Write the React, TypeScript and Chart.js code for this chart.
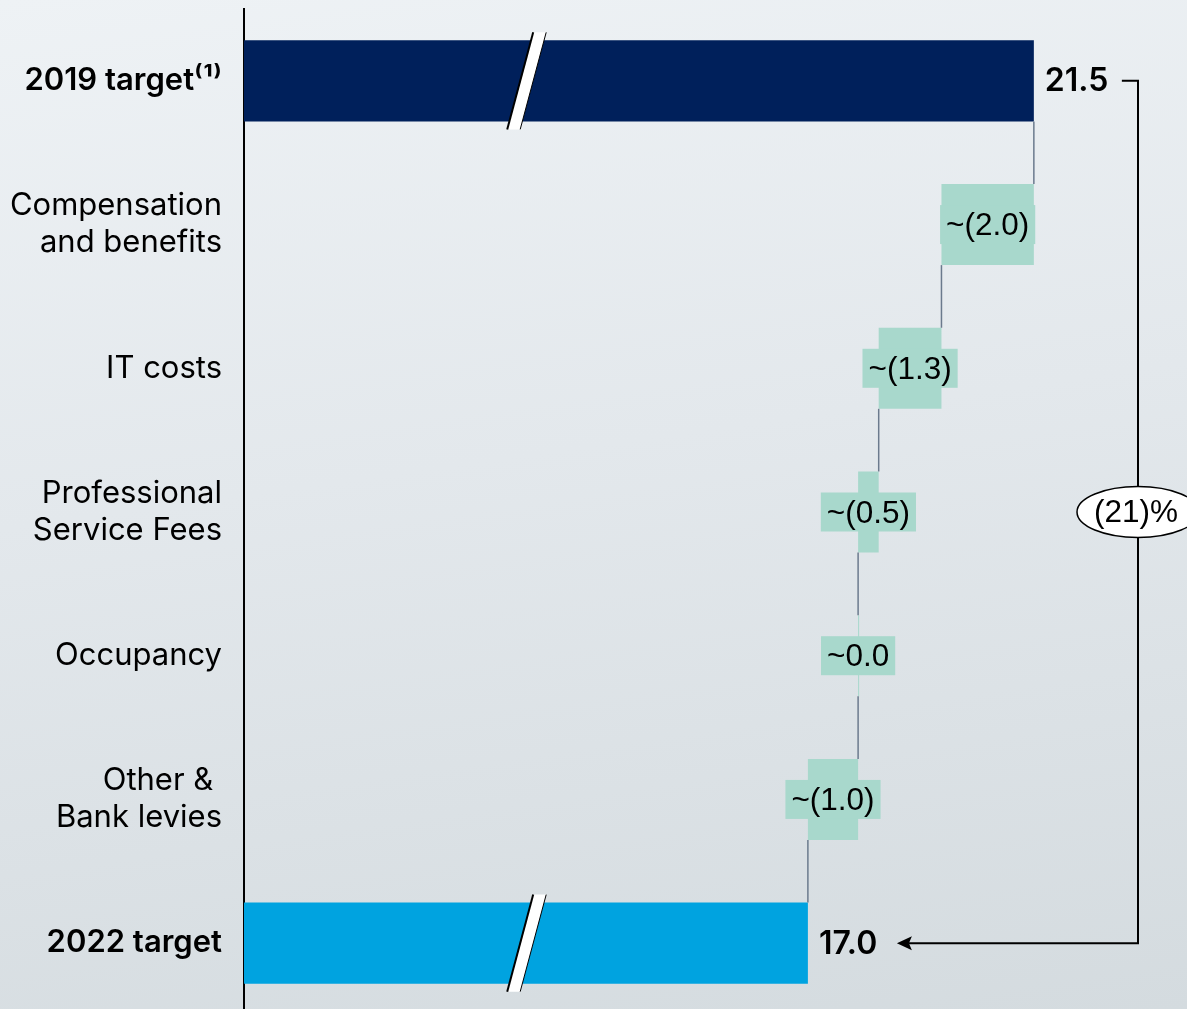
import React, { useEffect, useRef } from "react";
import { Chart, registerables } from "chart.js";

Chart.register(...registerables);

// ---- data ----
const categories: string[][] = [
  ["2019 target\u207D\u00B9\u207E"],
  ["Compensation", "and benefits"],
  ["IT costs"],
  ["Professional", "Service Fees"],
  ["Occupancy"],
  ["Other & ", "Bank levies"],
  ["2022 target"],
];
const startTotal = 21.5;
const stepLevels = [19.66, 18.41, 18.0, 18.0, 17.0]; // running level after each step (as drawn)
const endTotal = 17.0;
const stepLabels = ["~(2.0)", "~(1.3)", "~(0.5)", "~0.0", "~(1.0)"];
const totalLabels = ["21.5", "17.0"];
const changeLabel = "(21)%";
const axisBreakValue = 11.4;

const NAVY = "#00205b";
const BLUE = "#00a3e0";
const TEAL = "#a8d8cc";
const CONNECTOR = "#6b7a8d";

export default function App() {
  const ref = useRef<HTMLCanvasElement>(null);

  useEffect(() => {
    if (!ref.current) return;
    const prev = [startTotal, ...stepLevels.slice(0, -1)];
    const data = [
      [0, startTotal],
      ...stepLevels.map((v, i) => [prev[i], v]),
      [0, endTotal],
    ];
    const colors = [NAVY, ...stepLevels.map(() => TEAL), BLUE];
    const ends = [startTotal, ...stepLevels];

    const decor = {
      id: "waterfallDecor",
      afterDatasetsDraw(chart: any) {
        const ctx = chart.ctx as CanvasRenderingContext2D;
        const xs = chart.scales.x;
        const area = chart.chartArea;
        const els = chart.getDatasetMeta(0).data.map((e: any) =>
          e.getProps(["x", "y", "base", "height"], true)
        );
        ctx.save();

        // connectors
        ctx.strokeStyle = CONNECTOR;
        ctx.lineWidth = 1.5;
        for (let i = 0; i < els.length - 1; i++) {
          const a = els[i];
          const b = els[i + 1];
          const x = xs.getPixelForValue(ends[i]);
          ctx.beginPath();
          ctx.moveTo(x, a.y + a.height / 2);
          ctx.lineTo(x, b.y - b.height / 2);
          ctx.stroke();
        }

        // step label boxes
        ctx.font = "31.5px 'Liberation Sans', Arial, sans-serif";
        ctx.textAlign = "center";
        ctx.textBaseline = "middle";
        stepLabels.forEach((lab, k) => {
          const el = els[k + 1];
          const cx = (xs.getPixelForValue(prev[k]) + xs.getPixelForValue(stepLevels[k])) / 2;
          const w = ctx.measureText(lab).width + 12;
          const h = 39;
          ctx.fillStyle = TEAL;
          ctx.fillRect(cx - w / 2, el.y - h / 2, w, h);
          ctx.fillStyle = "#000";
          ctx.fillText(lab, cx, el.y + 2);
        });

        // axis break slashes on total bars
        [0, els.length - 1].forEach((i) => {
          const el = els[i];
          const cx = xs.getPixelForValue(axisBreakValue);
          const top = el.y - el.height / 2 - 8;
          const bot = el.y + el.height / 2 + 8;
          const s = 13;
          const hw = 6.5;
          ctx.beginPath();
          ctx.moveTo(cx - hw + s, top);
          ctx.lineTo(cx + hw + s, top);
          ctx.lineTo(cx + hw - s, bot);
          ctx.lineTo(cx - hw - s, bot);
          ctx.closePath();
          ctx.fillStyle = "#ffffff";
          ctx.fill();
          ctx.strokeStyle = "#000";
          ctx.lineWidth = 2;
          ctx.beginPath();
          ctx.moveTo(cx - hw + s, top);
          ctx.lineTo(cx - hw - s, bot);
          ctx.stroke();
          ctx.lineWidth = 1;
          ctx.beginPath();
          ctx.moveTo(cx + hw + s, top);
          ctx.lineTo(cx + hw - s, bot);
          ctx.stroke();
        });

        // total value labels
        ctx.font = "600 32px Inter, 'Noto Sans', sans-serif";
        ctx.textAlign = "left";
        ctx.fillStyle = "#000";
        const firstEl = els[0];
        const lastEl = els[els.length - 1];
        ctx.fillText(totalLabels[0], xs.getPixelForValue(startTotal) + 11, firstEl.y + 1);
        ctx.fillText(totalLabels[1], xs.getPixelForValue(endTotal) + 11, lastEl.y + 1);

        // bracket with arrow
        const xr = area.right - 49;
        const y0 = firstEl.y;
        const y6 = lastEl.y;
        const startX = xs.getPixelForValue(startTotal) + 88;
        const tip = xs.getPixelForValue(endTotal) + 89;
        ctx.strokeStyle = "#000";
        ctx.lineWidth = 2;
        ctx.beginPath();
        ctx.moveTo(startX, y0);
        ctx.lineTo(xr, y0);
        ctx.lineTo(xr, y6);
        ctx.lineTo(tip + 12, y6);
        ctx.stroke();
        ctx.fillStyle = "#000";
        ctx.beginPath();
        ctx.moveTo(tip, y6);
        ctx.lineTo(tip + 15, y6 - 7);
        ctx.lineTo(tip + 12, y6);
        ctx.lineTo(tip + 15, y6 + 7);
        ctx.closePath();
        ctx.fill();

        // change ellipse
        const ey = (y0 + y6) / 2;
        ctx.beginPath();
        ctx.ellipse(xr, ey, 61, 25.5, 0, 0, Math.PI * 2);
        ctx.fillStyle = "#ffffff";
        ctx.fill();
        ctx.lineWidth = 1.5;
        ctx.strokeStyle = "#000";
        ctx.stroke();
        ctx.font = "31.5px 'Liberation Sans', Arial, sans-serif";
        ctx.textAlign = "center";
        ctx.fillStyle = "#000";
        ctx.fillText(changeLabel, xr - 2, ey + 1);

        ctx.restore();
      },
    };

    const chart = new Chart(ref.current, {
      type: "bar",
      data: {
        labels: categories,
        datasets: [
          {
            data: data as any,
            backgroundColor: colors,
            borderWidth: 0,
            categoryPercentage: 1,
            barPercentage: 0.564,
            minBarLength: 1,
          },
        ],
      },
      options: {
        indexAxis: "y",
        responsive: false,
        animation: false,
        devicePixelRatio: 1,
        layout: { padding: { top: 9, bottom: 0, left: 0, right: 0 } },
        plugins: {
          legend: { display: false },
          tooltip: { enabled: false },
        },
        scales: {
          x: {
            type: "linear",
            display: false,
            min: 5.77,
            max: 24.55,
          },
          y: {
            type: "category",
            position: "left",
            grid: { display: false, drawTicks: false },
            border: { display: true, color: "#000", width: 2 },
            afterFit: (scale: any) => {
              scale.width = 244;
              scale.paddingTop = 0;
              scale.paddingBottom = 0;
            },
            ticks: {
              padding: 22,
              color: "#000",
              font: (c: any) => ({
                family: "Inter, 'Noto Sans', sans-serif",
                size: 31,
                lineHeight: 1.2,
                weight: c.index === 0 || c.index === categories.length - 1 ? 600 : 400,
              }),
            },
          },
        },
      },
      plugins: [decor],
    });
    return () => chart.destroy();
  }, []);

  return (
    <div
      style={{
        position: "fixed",
        left: 0,
        top: 0,
        width: 1187,
        height: 1009,
        overflow: "hidden",
        background: "linear-gradient(172deg, #eef2f5 0%, #e3e8ec 45%, #d4dbdf 100%)",
      }}
    >
      <canvas ref={ref} width={1187} height={1015} style={{ display: "block" }} />
    </div>
  );
}
